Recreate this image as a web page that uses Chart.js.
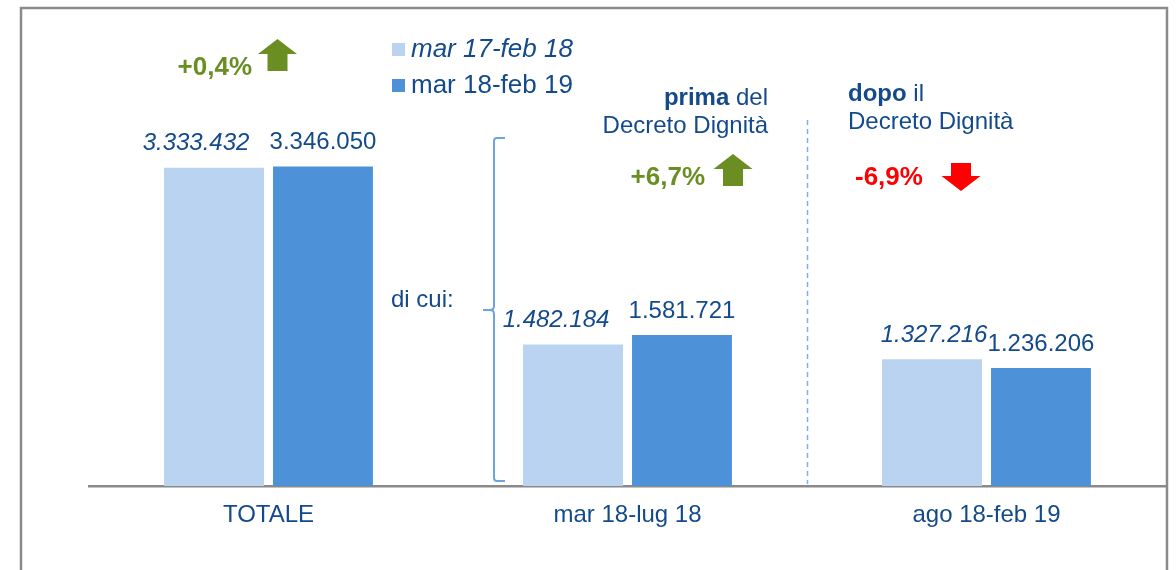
<!DOCTYPE html>
<html>
<head>
<meta charset="utf-8">
<script src="https://cdn.jsdelivr.net/npm/chart.js@4/dist/chart.umd.min.js"></script>
<style>
  html, body { margin: 0; padding: 0; background: #fff; }
  canvas { display: block; }
</style>
</head>
<body>
<canvas id="chartDecreto" width="1176" height="570"></canvas>
<script>
// ── Data ─────────────────────────────────────────────────────────────────────
const CATEGORIES  = ['TOTALE', 'mar 18-lug 18', 'ago 18-feb 19'];
const SERIES      = ['mar 17-feb 18', 'mar 18-feb 19'];
const PERIOD_PREV = [3333432, 1482184, 1327216];   // mar 17-feb 18
const PERIOD_CURR = [3346050, 1581721, 1236206];   // mar 18-feb 19
const VALUE_TEXT_PREV = ['3.333.432', '1.482.184', '1.327.216'];
const VALUE_TEXT_CURR = ['3.346.050', '1.581.721', '1.236.206'];
const CHANGES     = ['+0,4%', '+6,7%', '-6,9%'];

const FONT   = '"Liberation Sans", Arial, sans-serif';
const BLUE   = '#134a8b';
const LIGHT  = '#b9d3f0';
const DARK   = '#4d91d9';
const GREEN  = '#6b8e23';
const RED    = '#ff0000';
const ACCENT = '#6fa3e0';

// shift of the italic value labels (they sit a bit left of their bar)
const PREV_LABEL_DX = [-18, -17, 2];

// ── Helpers ──────────────────────────────────────────────────────────────────
function arrow(ctx, cx, top, bottom, dir, color) {
  const headW = 39, headH = 15, shaftW = 20;
  ctx.save();
  ctx.fillStyle = color;
  ctx.beginPath();
  if (dir === 'up') {
    ctx.moveTo(cx, top);
    ctx.lineTo(cx + headW / 2, top + headH);
    ctx.lineTo(cx + shaftW / 2, top + headH);
    ctx.lineTo(cx + shaftW / 2, bottom);
    ctx.lineTo(cx - shaftW / 2, bottom);
    ctx.lineTo(cx - shaftW / 2, top + headH);
    ctx.lineTo(cx - headW / 2, top + headH);
  } else {
    ctx.moveTo(cx, bottom);
    ctx.lineTo(cx + headW / 2, bottom - headH);
    ctx.lineTo(cx + shaftW / 2, bottom - headH);
    ctx.lineTo(cx + shaftW / 2, top);
    ctx.lineTo(cx - shaftW / 2, top);
    ctx.lineTo(cx - shaftW / 2, bottom - headH);
    ctx.lineTo(cx - headW / 2, bottom - headH);
  }
  ctx.closePath();
  ctx.fill();
  ctx.restore();
}

// draws "bold + regular" on one line, aligned left or right at x
function mixedLine(ctx, x, y, boldPart, plainPart, align) {
  ctx.font = `bold 24px ${FONT}`;
  const wb = ctx.measureText(boldPart).width;
  ctx.font = `24px ${FONT}`;
  const wp = ctx.measureText(plainPart).width;
  const start = align === 'right' ? x - wb - wp : x;
  ctx.textAlign = 'left';
  ctx.font = `bold 24px ${FONT}`;
  ctx.fillText(boldPart, start, y);
  ctx.font = `24px ${FONT}`;
  ctx.fillText(plainPart, start + wb, y);
}

// ── Decorations: frame, legend, notes, bracket, separator ────────────────────
const decorations = {
  id: 'decorations',
  beforeDraw(chart) {
    const ctx = chart.ctx;
    ctx.save();
    ctx.fillStyle = '#fff';
    ctx.fillRect(0, 0, chart.width, chart.height);
    ctx.strokeStyle = '#8a8a8a';
    ctx.lineWidth = 2.5;
    ctx.beginPath();
    ctx.moveTo(21, 580);
    ctx.lineTo(21, 8);
    ctx.lineTo(1167, 8);
    ctx.lineTo(1167, 580);
    ctx.stroke();
    ctx.restore();
  },
  afterDatasetsDraw(chart) {
    const ctx = chart.ctx;
    ctx.save();
    ctx.textBaseline = 'middle';

    // value labels above the bars
    const metaPrev = chart.getDatasetMeta(0);
    const metaCurr = chart.getDatasetMeta(1);
    ctx.fillStyle = BLUE;
    ctx.textAlign = 'center';
    metaPrev.data.forEach((bar, i) => {
      ctx.font = `italic 24px ${FONT}`;
      ctx.fillText(VALUE_TEXT_PREV[i], bar.x + PREV_LABEL_DX[i], bar.y - 24);
    });
    metaCurr.data.forEach((bar, i) => {
      ctx.font = `24px ${FONT}`;
      ctx.fillText(VALUE_TEXT_CURR[i], bar.x, bar.y - 24);
    });

    // legend
    ctx.textAlign = 'left';
    ctx.fillStyle = LIGHT;
    ctx.fillRect(392, 43, 13, 13);
    ctx.fillStyle = DARK;
    ctx.fillRect(392, 79, 13, 13);
    ctx.fillStyle = BLUE;
    ctx.font = `italic 26px ${FONT}`;
    ctx.fillText(SERIES[0], 411, 50);
    ctx.font = `26px ${FONT}`;
    ctx.fillText(SERIES[1], 411, 86);

    // percentage changes
    ctx.font = `bold 26px ${FONT}`;
    ctx.fillStyle = GREEN;
    ctx.textAlign = 'right';
    ctx.fillText(CHANGES[0], 252, 68);
    ctx.fillText(CHANGES[1], 705, 178);
    ctx.fillStyle = RED;
    ctx.textAlign = 'left';
    ctx.fillText(CHANGES[2], 855, 178);
    arrow(ctx, 277.5, 39, 71, 'up', GREEN);
    arrow(ctx, 733, 154, 186, 'up', GREEN);
    arrow(ctx, 961, 163, 191, 'down', RED);

    // before / after notes
    ctx.fillStyle = BLUE;
    mixedLine(ctx, 768, 98, 'prima', ' del', 'right');
    ctx.textAlign = 'right';
    ctx.font = `24px ${FONT}`;
    ctx.fillText('Decreto Dignità', 768, 126);
    mixedLine(ctx, 848, 94, 'dopo', ' il', 'left');
    ctx.textAlign = 'left';
    ctx.font = `24px ${FONT}`;
    ctx.fillText('Decreto Dignità', 848, 122);

    // "di cui:" with curly bracket
    ctx.font = `24px ${FONT}`;
    ctx.fillText('di cui:', 391, 300);
    ctx.strokeStyle = ACCENT;
    ctx.lineWidth = 2;
    ctx.beginPath();
    ctx.moveTo(505, 138);
    ctx.lineTo(497, 138);
    ctx.quadraticCurveTo(494, 138, 494, 141);
    ctx.lineTo(494, 306);
    ctx.quadraticCurveTo(494, 310, 490, 310);
    ctx.lineTo(483, 310);
    ctx.moveTo(490, 310);
    ctx.quadraticCurveTo(494, 310, 494, 314);
    ctx.lineTo(494, 478);
    ctx.quadraticCurveTo(494, 481, 497, 481);
    ctx.lineTo(505, 481);
    ctx.stroke();

    // dashed separator between the two periods
    ctx.strokeStyle = '#7fb0e6';
    ctx.lineWidth = 1.5;
    ctx.setLineDash([5, 4]);
    ctx.beginPath();
    ctx.moveTo(807.5, 120);
    ctx.lineTo(807.5, 484);
    ctx.stroke();
    ctx.restore();
  },
};

// ── Chart ────────────────────────────────────────────────────────────────────
new Chart(document.getElementById('chartDecreto'), {
  type: 'bar',
  data: {
    labels: CATEGORIES,
    datasets: [
      { label: SERIES[0], data: PERIOD_PREV, backgroundColor: LIGHT },
      { label: SERIES[1], data: PERIOD_CURR, backgroundColor: DARK },
    ],
  },
  options: {
    responsive: false,
    devicePixelRatio: 1,
    animation: false,
    barPercentage: 0.917,
    categoryPercentage: 0.607,
    layout: { padding: { left: 89, right: 10, top: 104, bottom: 0 } },
    plugins: {
      legend: { display: false },
      tooltip: { enabled: false },
    },
    scales: {
      x: {
        grid: { display: false, drawTicks: false },
        border: { display: true, color: '#8a8a8a', width: 2.5 },
        ticks: { color: BLUE, font: { family: FONT, size: 24 }, padding: 15 },
        afterFit: scale => { scale.height = 84; },
      },
      y: { display: false, min: 0, max: 4000000 },
    },
  },
  plugins: [decorations],
});
</script>
</body>
</html>
